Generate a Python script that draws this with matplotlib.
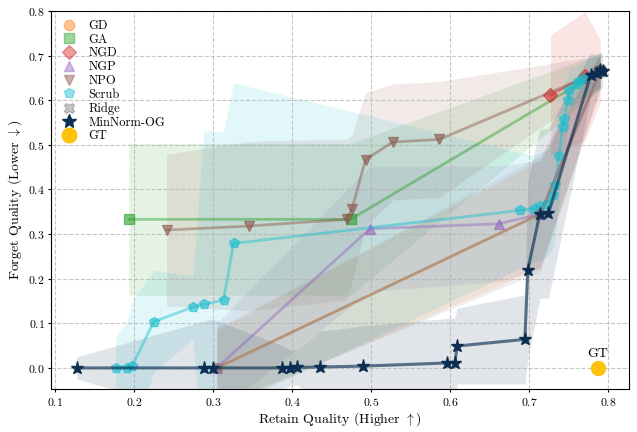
import matplotlib
matplotlib.use('Agg')
import matplotlib.pyplot as plt
from matplotlib.lines import Line2D

plt.rcParams['font.family'] = ['cmr10', 'DejaVu Serif']
plt.rcParams['mathtext.fontset'] = 'cm'
plt.rcParams['axes.formatter.use_mathtext'] = True
plt.rcParams['axes.unicode_minus'] = False

# ---------------- data ----------------
gd_x = [0.305, 0.714, 0.790]
gd_y = [0.000, 0.345, 0.665]
gd_s = [0.090, 0.120, 0.040]

ga_x = [0.1936, 0.474, 0.790]
ga_y = [0.333, 0.333, 0.665]
ga_s = [0.170, 0.170, 0.040]

ngd_x = [0.727, 0.7705, 0.790]
ngd_y = [0.611, 0.654, 0.665]
ngd_s = [0.135, 0.145, 0.070]

ngp_x = [0.305, 0.4985, 0.6617, 0.714, 0.790]
ngp_y = [0.000, 0.312, 0.323, 0.345, 0.665]
ngp_s = [0.100, 0.140, 0.130, 0.120, 0.040]

npo_x = [0.2413, 0.3454, 0.469, 0.476, 0.493, 0.5276, 0.586, 0.790]
npo_y = [0.309, 0.318, 0.333, 0.357, 0.467, 0.5065, 0.512, 0.665]
npo_s = [0.170, 0.190, 0.180, 0.165, 0.150, 0.130, 0.130, 0.035]

scrub_x = [0.177, 0.1907, 0.198, 0.2252, 0.2746, 0.2885, 0.3134, 0.326,
           0.6882, 0.7063, 0.7135, 0.722, 0.7304, 0.7325, 0.738, 0.7423,
           0.7435, 0.7498, 0.7506, 0.760, 0.7632, 0.770, 0.790]
scrub_y = [0.000, 0.000, 0.005, 0.104, 0.136, 0.1424, 0.152, 0.279,
           0.353, 0.3566, 0.362, 0.368, 0.388, 0.410, 0.474, 0.540,
           0.558, 0.600, 0.6225, 0.6375, 0.643, 0.650, 0.665]
scrub_s = [0.070, 0.100, 0.147, 0.115, 0.070, 0.390, 0.376, 0.360,
           0.130, 0.120, 0.120, 0.120, 0.120, 0.120, 0.100, 0.080,
           0.080, 0.060, 0.050, 0.040, 0.040, 0.040, 0.040]

ridge_x = [0.305, 0.714, 0.790]
ridge_y = [0.000, 0.345, 0.665]
ridge_s = [0.085, 0.130, 0.040]

mn_x = [0.1274, 0.2885, 0.2995, 0.3876, 0.3973, 0.4066, 0.4352, 0.4892,
        0.5963, 0.606, 0.609, 0.6946, 0.6983, 0.7135, 0.7245, 0.7777,
        0.786, 0.790, 0.793]
mn_y = [0.000, 0.000, 0.000, 0.000, 0.000, 0.001, 0.002, 0.004,
        0.011, 0.012, 0.049, 0.064, 0.2196, 0.345, 0.347, 0.6555,
        0.662, 0.668, 0.665]
mn_s = [0.025, 0.105, 0.110, 0.050, 0.040, 0.040, 0.080, 0.090,
        0.100, 0.100, 0.085, 0.100, 0.200, 0.190, 0.190, 0.050,
        0.040, 0.040, 0.040]

gt_x = [0.787]
gt_y = [0.000]

names = ['GD', 'GA', 'NGD', 'NGP', 'NPO', 'Scrub', 'Ridge', 'MinNorm-OG']
colors = ['#ff7f0e', '#2ca02c', '#d62728', '#9467bd', '#8c564b', '#17becf',
          '#7f7f7f', '#0b2e52']
markers = ['o', 's', 'D', '^', 'v', 'p', 'X', '*']
series = [(gd_x, gd_y, gd_s), (ga_x, ga_y, ga_s), (ngd_x, ngd_y, ngd_s),
          (ngp_x, ngp_y, ngp_s), (npo_x, npo_y, npo_s),
          (scrub_x, scrub_y, scrub_s), (ridge_x, ridge_y, ridge_s),
          (mn_x, mn_y, mn_s)]

fig = plt.figure(figsize=(6.37, 4.32), dpi=100)
ax = fig.add_axes([0.080, 0.0988, 0.907, 0.8757])

for name, c, m, (x, y, s) in zip(names, colors, markers, series):
    lo = [a - b for a, b in zip(y, s)]
    hi = [a + b for a, b in zip(y, s)]
    ax.fill_between(x, lo, hi, color=c, alpha=0.12, linewidth=0, zorder=1)

for name, c, m, (x, y, s) in zip(names, colors, markers, series):
    if name == 'MinNorm-OG':
        ax.plot(x, y, color=c, lw=2.2, alpha=0.65, zorder=4)
        ax.plot(x, y, color=c, lw=0, marker='*', ms=9.5, zorder=5)
    else:
        ax.plot(x, y, color=c, lw=2.0, alpha=0.45, zorder=3)
        ax.plot(x, y, color=c, lw=0, marker=m, ms=7, alpha=0.6, zorder=3)

ax.plot(gt_x, gt_y, 'o', color='#ffc20a', ms=10, zorder=6)
ax.text(gt_x[0], gt_y[0] + 0.018, 'GT', ha='center', va='bottom', fontsize=10)

ax.set_xlim(0.095, 0.826)
ax.set_ylim(-0.048, 0.8)
ax.set_xticks([0.1, 0.2, 0.3, 0.4, 0.5, 0.6, 0.7, 0.8])
ax.set_yticks([0.0, 0.1, 0.2, 0.3, 0.4, 0.5, 0.6, 0.7, 0.8])
ax.tick_params(labelsize=8.5, length=2.5, pad=2)
ax.grid(True, linestyle='--', color='#b0b0b0', linewidth=0.8, alpha=0.7)
ax.set_xlabel(r'Retain Quality (Higher $\uparrow$)', fontsize=10, labelpad=2)
ax.set_ylabel(r'Forget Quality (Lower $\downarrow$)', fontsize=10, labelpad=3)

handles = []
for name, c, m in zip(names, colors, markers):
    if name == 'MinNorm-OG':
        handles.append(Line2D([], [], color=c, marker='*', ms=10, ls='none'))
    else:
        handles.append(Line2D([], [], color=c, marker=m, ms=7.5, ls='none', alpha=0.45))
handles.append(Line2D([], [], color='#ffc20a', marker='o', ms=10.5, ls='none'))
ax.legend(handles, names + ['GT'], loc='upper left', frameon=False,
          fontsize=9, handlelength=1.5, labelspacing=0.13, borderaxespad=0.3)

fig.savefig('out.png', dpi=100)
